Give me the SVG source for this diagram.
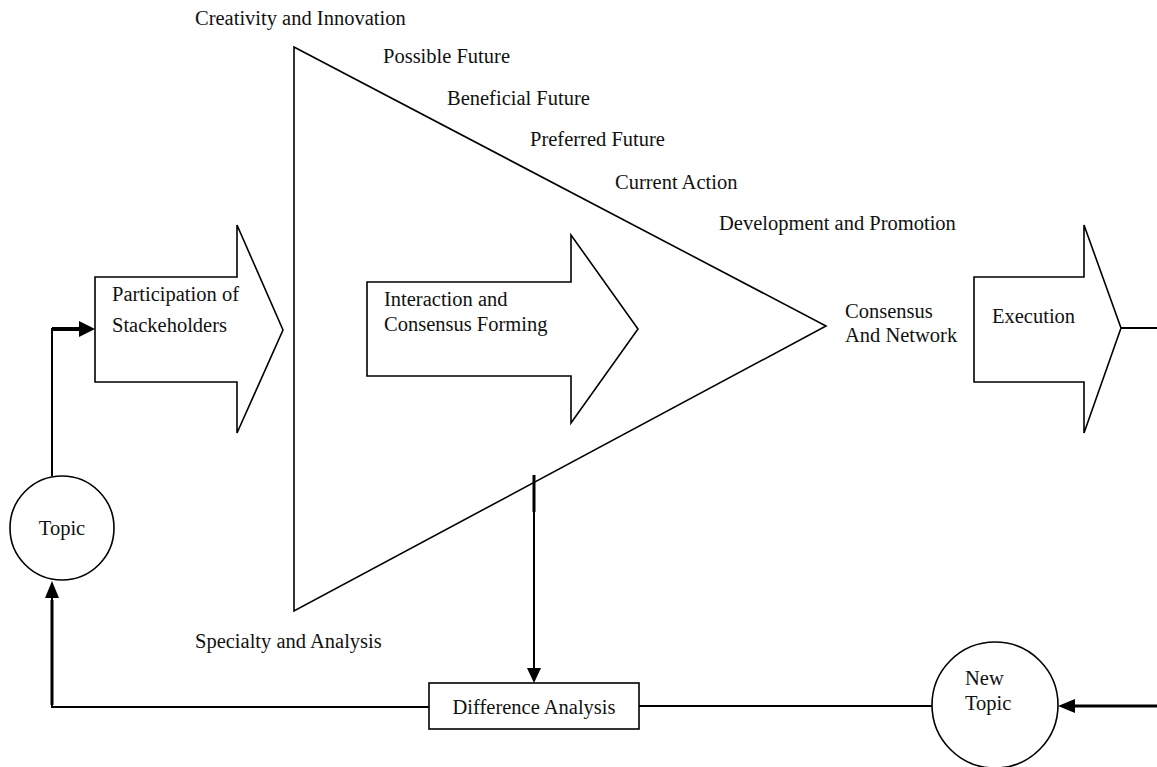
<svg xmlns="http://www.w3.org/2000/svg" width="1157" height="767" viewBox="0 0 1157 767">
<defs>
<style>
text{font-family:"Liberation Serif","Times New Roman",serif;font-size:20.5px;fill:#111}
.sh{fill:#fff;stroke:#000;stroke-width:1.6;stroke-linejoin:miter}
.ln{fill:none;stroke:#000;stroke-width:2}
.thk{fill:none;stroke:#000;stroke-width:3}
</style>
</defs>
<rect width="1157" height="767" fill="#fff"/>
<g id="triangle">
<path class="sh" d="M294,47 L826,326 L294,611 Z"/>
</g>
<g id="labels">
<text x="195" y="25">Creativity and Innovation</text>
<text x="383" y="63">Possible Future</text>
<text x="447" y="105">Beneficial Future</text>
<text x="530" y="146">Preferred Future</text>
<text x="615" y="189">Current Action</text>
<text x="719" y="230">Development and Promotion</text>
<text x="195" y="648">Specialty and Analysis</text>
<text x="845" y="318">Consensus</text>
<text x="845" y="342">And Network</text>
</g>
<g id="participation">
<path class="sh" d="M95,277 L237,277 L237,225 L283,330 L237,433 L237,382 L95,382 Z"/>
<text x="112" y="301">Participation of</text>
<text x="112" y="332">Stackeholders</text>
</g>
<g id="interaction">
<path class="sh" d="M367,282 L571,282 L571,235 L638,329 L571,423 L571,376 L367,376 Z"/>
<text x="384" y="306">Interaction and</text>
<text x="384" y="331">Consensus Forming</text>
</g>
<g id="execution">
<path class="sh" d="M974,277 L1084,277 L1084,225 L1121,328 L1084,433 L1084,382 L974,382 Z"/>
<text x="992" y="323">Execution</text>
</g>
<g id="topic">
<circle class="sh" cx="62" cy="528" r="52"/>
<text x="62" y="535" text-anchor="middle">Topic</text>
</g>
<g id="difference">
<rect class="sh" x="429" y="683" width="210" height="46"/>
<text x="534" y="714" text-anchor="middle">Difference Analysis</text>
</g>
<g id="newtopic">
<circle class="sh" cx="995" cy="705" r="63"/>
<text x="965" y="685">New</text>
<text x="965" y="710">Topic</text>
</g>
<g id="connectors">
<path class="ln" d="M52,476 L52,329 L78,329"/>
<path d="M52,329 L80,329" stroke="#000" stroke-width="4"/>
<path d="M79,321 L95,329 L79,337 Z" fill="#000"/>
<path class="ln" d="M429,707 L52,707 L52,598"/>
<path d="M52,600 L52,705" stroke="#000" stroke-width="3"/>
<path d="M45,598 L52,581 L59,598 Z" fill="#000"/>
<path d="M534,475 L534,512" stroke="#000" stroke-width="3"/>
<path class="ln" d="M534,512 L534,668"/>
<path d="M527,668 L534,683 L541,668 Z" fill="#000"/>
<path class="ln" d="M639,706 L932,706"/>
<path d="M1157,706 L1074,706" stroke="#000" stroke-width="3"/>
<path d="M1075,699 L1058,706 L1075,713 Z" fill="#000"/>
<path class="ln" d="M1121,328 L1157,328"/>
</g>
</svg>
